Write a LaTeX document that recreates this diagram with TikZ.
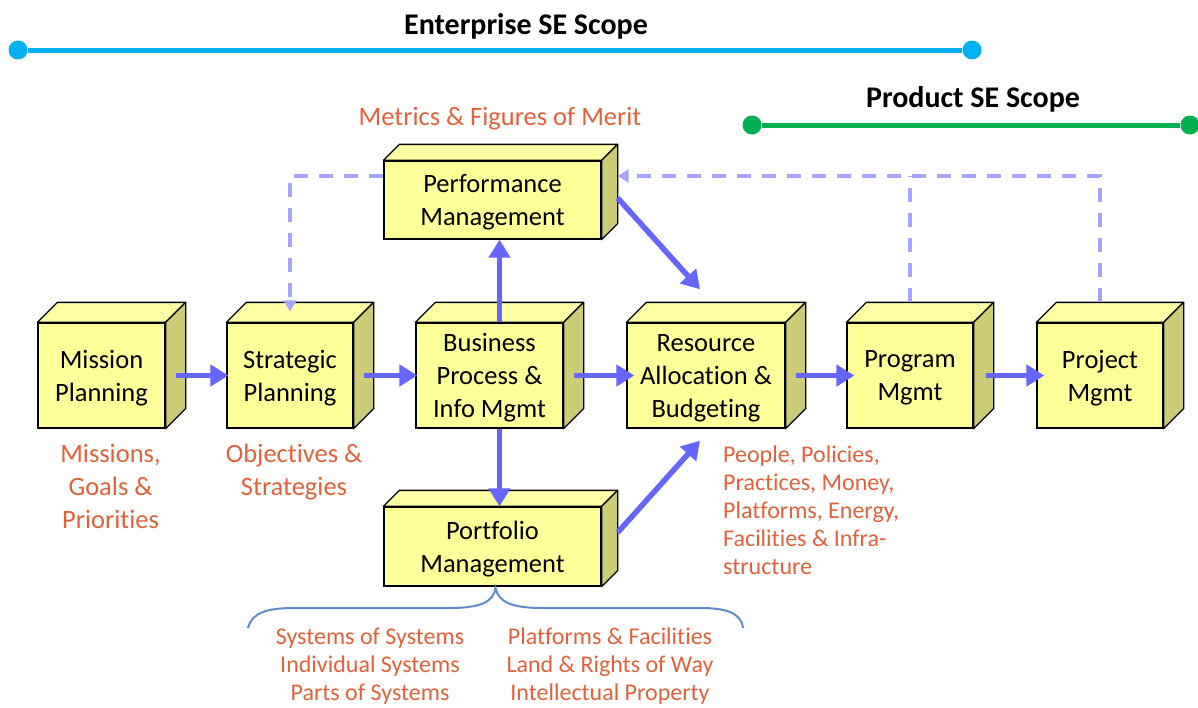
\documentclass[tikz,border=0pt]{standalone}
\usepackage{fontspec}
\setmainfont{Carlito}[Ligatures=NoCommon]
\usetikzlibrary{arrows.meta,positioning}

\definecolor{boxfront}{RGB}{255,255,153}
\definecolor{boxtop}{RGB}{255,255,165}
\definecolor{boxside}{RGB}{204,204,119}
\definecolor{flowblue}{RGB}{102,102,255}
\definecolor{fbblue}{RGB}{165,165,255}
\definecolor{notered}{RGB}{222,98,58}
\definecolor{entcyan}{RGB}{0,176,240}
\definecolor{prodgreen}{RGB}{0,176,80}
\definecolor{bracecol}{RGB}{95,140,200}

\begin{document}
\begin{tikzpicture}[x=1pt, y=-1pt,
    box/.style = {draw, rectangle, fill=boxfront, line width=1.3pt, align=center, inner sep=0pt,
                  minimum height=105pt, text depth=0pt, font=\fontsize{26.5}{33}\selectfont},
    flow/.style = {-{Triangle[length=18pt,width=21pt]}, line width=5.5pt, draw=flowblue},
    fb/.style = {-{Triangle[length=11pt,width=13pt]}, line width=3.5pt, draw=fbblue, dash pattern=on 14pt off 11pt},
    note/.style = {text=notered, align=center, inner sep=0pt, font=\fontsize{26.5}{33}\selectfont},
    small/.style = {text=notered, inner sep=0pt, font=\fontsize{24}{28}\selectfont},
    title/.style = {font=\fontsize{30}{36}\selectfont\bfseries},
    dot/.style = {circle, fill, inner sep=0pt, minimum size=19pt}]
\useasboundingbox (0,0) rectangle (1198,707);

% scope bars
\node[title] (ent) at (526,26) {Enterprise SE Scope};
\node[dot, entcyan] (e1) at (18,50) {};
\node[dot, entcyan] (e2) at (972,50) {};
\draw[entcyan, line width=5pt] (e1) -- (e2);
\node[title] (prod) at (973,99) {Product SE Scope};
\node[dot, prodgreen] (p1) at (752,125) {};
\node[dot, prodgreen] (p2) at (1190,125) {};
\draw[prodgreen, line width=5pt] (p1) -- (p2);

% boxes
\node[box, minimum width=127pt] (mp) at (101.5,375.5) {Mission\\Planning};
\node[box, minimum width=126pt] (sp) [right of=mp, node distance=188.5pt] {Strategic\\Planning};
\node[box, minimum width=147pt] (bp) [right of=sp, node distance=199.5pt] {Business\\Process \&\\Info Mgmt};
\node[box, minimum width=158pt] (ra) [right of=bp, node distance=216.5pt] {Resource\\Allocation \&\\Budgeting};
\node[box, minimum width=126pt] (pg) [right of=ra, node distance=204pt] {Program\\Mgmt};
\node[box, minimum width=126pt] (pj) [right of=pg, node distance=190pt] {Project\\Mgmt};
\node[box, minimum width=217pt, minimum height=78pt] (pm) [above of=bp, node distance=175.5pt, xshift=3pt] {Performance\\Management};
\node[box, minimum width=217pt, minimum height=79pt] (pf) [below of=bp, node distance=171pt, xshift=3pt] {Portfolio\\Management};

% top and side faces
\foreach \n/\d in {mp/20,sp/20,bp/20,ra/20,pg/20,pj/20,pm/16,pf/16} {
    \draw[line width=1.3pt, fill=boxtop, line join=round] (\n.north west) -- ++(\d,-\d) -- ([shift={(\d,-\d)}]\n.north east) -- (\n.north east) -- cycle;
    \draw[line width=1.3pt, fill=boxside, line join=round] (\n.north east) -- ++(\d,-\d) -- ([shift={(\d,-\d)}]\n.south east) -- (\n.south east) -- cycle;
}

% labels
\node[note] (merit) at (500,119) {Metrics \& Figures of Merit};
\node[note, below=15pt of mp, xshift=9pt] (goals) {Missions,\\Goals \&\\Priorities};
\node[note, below=15pt of sp, xshift=4pt] (objs) {Objectives \&\\Strategies};
\node[small, align=left, anchor=north west] (res) at (723,446) {People, Policies,\\Practices, Money,\\Platforms, Energy,\\Facilities \& Infra-\\structure};
\node[small, align=center] (sys) at (370,666) {Systems of Systems\\Individual Systems\\Parts of Systems};
\node[small, align=center] (land) at (610,666) {Platforms \& Facilities\\Land \& Rights of Way\\Intellectual Property};

% flows
\coordinate (ratop) at ([shift={(-6,-33)}]ra.north);
\coordinate (rabot) at ([shift={(-6,12)}]ra.south);
\draw[flow] ([xshift=10pt]mp.east) -- ([xshift=2pt]sp.west);
\draw[flow] ([xshift=10pt]sp.east) -- ([xshift=2pt]bp.west);
\draw[flow] ([xshift=10pt]bp.east) -- ([xshift=8pt]ra.west);
\draw[flow] ([xshift=10pt]ra.east) -- ([xshift=8pt]pg.west);
\draw[flow] ([xshift=12pt]pg.east) -- ([xshift=8pt]pj.west);
\draw[flow] ([xshift=10pt]bp.north) -- ([xshift=10pt]bp.north |- pm.south);
\draw[flow] ([xshift=10pt]bp.south) -- ([xshift=10pt]bp.south |- pf.north);
\draw[flow] ([shift={(16,-2)}]pm.east) -- (ratop);
\draw[flow] ([shift={(16,-14)}]pf.east) -- (rabot);

% feedback
\coordinate (fbin) at ([shift={(16,-24)}]pm.east);
\draw[fb] ([yshift=24pt]pm.west) -| ([yshift=11pt]sp.north);
\draw[fb] ([yshift=20pt]pj.north) |- (fbin);
\draw[fb, -] ([yshift=20pt]pg.north) -- (pg.north |- fbin);

% brace
\coordinate (bt) at ([xshift=3pt, yshift=-1pt]pf.south);
\draw[bracecol, line width=2pt] (248,628) .. controls (252,612) and (268,608) .. (295,608) -- (450,608)
    .. controls (480,608) and (494,602) .. (bt) .. controls (498,602) and (512,608) .. (542,608) -- (700,608)
    .. controls (727,608) and (741,613) .. (743,628);
\end{tikzpicture}
\end{document}
